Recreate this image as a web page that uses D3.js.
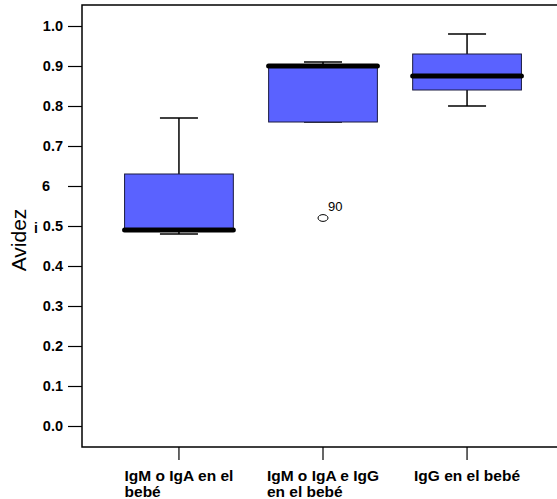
<!DOCTYPE html>
<html><head><meta charset="utf-8">
<script src="https://cdn.jsdelivr.net/npm/d3@7"></script>
<style>body{margin:0;background:#fff}svg{display:block}</style>
</head><body><svg id="c" width="557" height="499"></svg>
<script>
const categories = ["IgM o IgA en el|bebé", "IgM o IgA e IgG|en el bebé", "IgG en el bebé"];
const whiskerLow = [0.48, 0.76, 0.80];
const q1 = [0.49, 0.76, 0.84];
const median = [0.49, 0.90, 0.875];
const q3 = [0.63, 0.90, 0.93];
const whiskerHigh = [0.77, 0.91, 0.98];
const outliers = [{cat: 1, value: 0.52, label: "90"}];
const yTicks = [0, 0.1, 0.2, 0.3, 0.4, 0.5, 0.6, 0.7, 0.8, 0.9, 1.0];
const yTickLabels = ["0.0","0.1","0.2","0.3","0.4","0.5","6","0.7","0.8","0.9","1.0"];

const FONT = "Liberation Sans, Arial, sans-serif";
const svg = d3.select("#c");
const mLeft = 82, mTop = 5, mRight = 557, mBottom = 447;
const y = d3.scaleLinear().domain([0, 1]).range([426, 26]);
const x = d3.scaleBand().domain(d3.range(categories.length)).range([107, 539]).paddingInner(0.245).paddingOuter(0.122);

// Frame
svg.append("path").attr("d", `M${mRight},${mTop}H${mLeft}V${mBottom}H${mRight}`)
  .attr("fill","none").attr("stroke","#000").attr("stroke-width",1.5);

// Y axis
const yAxis = d3.axisLeft(y).tickValues(yTicks).tickSize(14).tickPadding(5)
  .tickFormat((d,i) => yTickLabels[i]);
const ga = svg.append("g").attr("transform",`translate(${mLeft},0)`).call(yAxis);
ga.select(".domain").remove();
ga.selectAll(".tick line").attr("stroke","#000").attr("stroke-width",1.2);
ga.selectAll(".tick text").attr("font-family",FONT)
  .attr("font-size",14.5).attr("font-weight","bold").attr("fill","#000");
ga.selectAll(".tick text").filter((d,i) => yTickLabels[i] === "6").attr("x", -32);

// stray glyph
svg.append("text").attr("x",34).attr("y",233).attr("font-family",FONT)
  .attr("font-size",14).attr("font-weight","bold").text("i");

// Y title
svg.append("text").attr("transform","translate(26,240) rotate(-90)").attr("text-anchor","middle")
  .attr("font-family",FONT).attr("font-size",21).text("Avidez");

// X axis ticks
const cx = i => x(i) + x.bandwidth()/2;
svg.selectAll(".xt").data(categories).enter().append("line")
  .attr("x1",(d,i)=>cx(i)).attr("x2",(d,i)=>cx(i)).attr("y1",mBottom).attr("y2",460)
  .attr("stroke","#000").attr("stroke-width",1.2);

// X labels
categories.forEach((c,i) => {
  const lines = c.split("|");
  const t = svg.append("text").attr("font-family",FONT)
    .attr("font-size",15.5).attr("font-weight","bold").attr("fill","#000");
  lines.forEach((l,j) => t.append("tspan").attr("y", 481 + j*15.5).text(l));
  const w = t.select("tspan").node().getComputedTextLength();
  const sx = cx(i) - w/2;
  t.selectAll("tspan").attr("x", sx);
});

// Boxes
const g = svg.append("g");
const capW = 38;
categories.forEach((c,i) => {
  const c0 = cx(i);
  g.append("line").attr("x1",c0).attr("x2",c0).attr("y1",y(q3[i])).attr("y2",y(whiskerHigh[i])).attr("stroke","#000").attr("stroke-width",1.5);
  g.append("line").attr("x1",c0).attr("x2",c0).attr("y1",y(q1[i])).attr("y2",y(whiskerLow[i])).attr("stroke","#000").attr("stroke-width",1.5);
  g.append("line").attr("x1",c0-capW/2).attr("x2",c0+capW/2).attr("y1",y(whiskerHigh[i])).attr("y2",y(whiskerHigh[i])).attr("stroke","#000").attr("stroke-width",1.5);
  g.append("line").attr("x1",c0-capW/2).attr("x2",c0+capW/2).attr("y1",y(whiskerLow[i])).attr("y2",y(whiskerLow[i])).attr("stroke","#000").attr("stroke-width",1.5);
  g.append("rect").attr("x",x(i)).attr("width",x.bandwidth())
    .attr("y",y(q3[i])).attr("height",Math.max(0,y(q1[i])-y(q3[i])))
    .attr("fill","#5A62FF").attr("stroke","#1a1a40").attr("stroke-width",1);
  g.append("line").attr("x1",x(i)).attr("x2",x(i)+x.bandwidth()).attr("y1",y(median[i])).attr("y2",y(median[i]))
    .attr("stroke","#000").attr("stroke-width",5).attr("stroke-linecap","round");
});

// Outliers
outliers.forEach(o => {
  const ox = cx(o.cat);
  g.append("ellipse").attr("cx",ox).attr("cy",y(o.value)).attr("rx",5).attr("ry",3.4)
    .attr("fill","none").attr("stroke","#000").attr("stroke-width",1);
  g.append("text").attr("x",ox+5).attr("y",y(o.value)-7).attr("font-family",FONT)
    .attr("font-size",13).text(o.label);
});
</script></body></html>
